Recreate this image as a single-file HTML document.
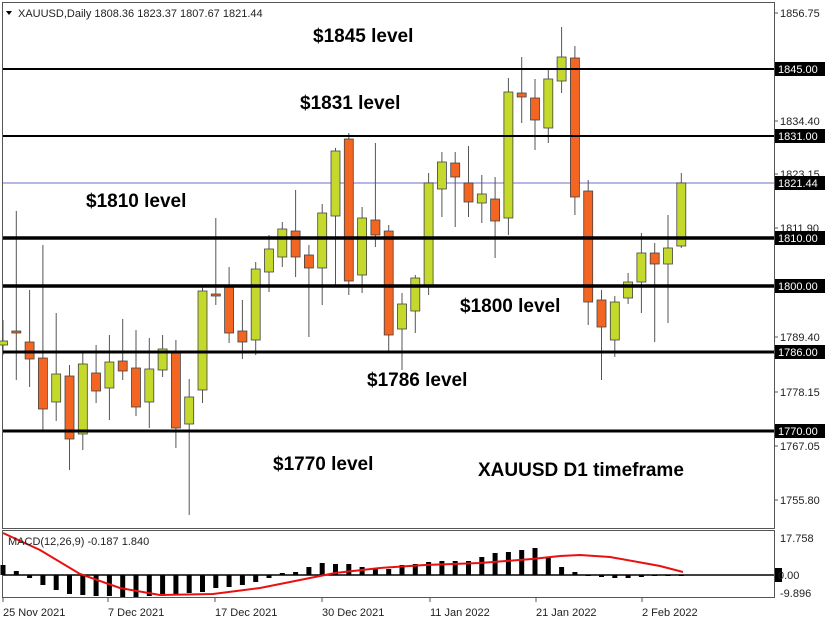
<!DOCTYPE html>
<html><head><meta charset="utf-8"><style>
html,body{margin:0;padding:0;background:#fff;width:830px;height:623px;overflow:hidden}
svg{display:block}
text{font-family:"Liberation Sans",Arial,sans-serif}
.ax{font-size:11px;fill:#222}
.lv{font-size:19px;font-weight:bold;fill:#000}
.bx{font-size:11px;fill:#fff}
</style></head><body>
<svg id="s" width="830" height="623" viewBox="0 0 830 623" xmlns="http://www.w3.org/2000/svg">
<rect x="0" y="0" width="830" height="623" fill="#fff"/>
<rect x="2.5" y="2.5" width="772" height="526" fill="none" stroke="#555" stroke-width="1"/>
<rect x="2.5" y="530.5" width="772" height="67" fill="none" stroke="#555" stroke-width="1"/>
<line x1="3" y1="183" x2="774" y2="183" stroke="#8c8cd8" stroke-width="1.2"/>
<g id="candles"></g>
<g id="macd"></g>
<line x1="3" y1="575" x2="774" y2="575" stroke="#000" stroke-width="1.5"/>
<polyline fill="none" stroke="#e81010" stroke-width="2" points="3,533 40,550 80,574 120,588 160,595 213,594 260,588 300,580 335,573 380,568 425,565 480,563 532,559 560,556 580,555 610,557 638,562 660,566 683,572"/>
<!-- horizontal levels -->
<line x1="3" y1="69" x2="774" y2="69" stroke="#000" stroke-width="2"/>
<line x1="3" y1="136" x2="774" y2="136" stroke="#000" stroke-width="2"/>
<line x1="3" y1="238" x2="774" y2="238" stroke="#000" stroke-width="3.5"/>
<line x1="3" y1="286" x2="774" y2="286" stroke="#000" stroke-width="3.5"/>
<line x1="3" y1="352" x2="774" y2="352" stroke="#000" stroke-width="3"/>
<line x1="3" y1="431" x2="774" y2="431" stroke="#000" stroke-width="3"/>
<!-- header -->
<polygon points="6,11 12,11 9,15" fill="#000"/>
<text x="18" y="17" class="ax">XAUUSD,Daily  1808.36 1823.37 1807.67 1821.44</text>
<text x="8" y="545" class="ax">MACD(12,26,9) -0.187 1.840</text>
<!-- annotations -->
<text x="313" y="42" class="lv">$1845 level</text>
<text x="300" y="109" class="lv">$1831 level</text>
<text x="86" y="207" class="lv">$1810 level</text>
<text x="460" y="312" class="lv">$1800 level</text>
<text x="367" y="386" class="lv">$1786 level</text>
<text x="273" y="470" class="lv">$1770 level</text>
<text x="478" y="476" class="lv">XAUUSD D1 timeframe</text>
<!-- right axis -->
<g class="ax">
<text x="780" y="17">1856.75</text>
<text x="780" y="125">1834.40</text>
<text x="780" y="178">1823.15</text>
<text x="780" y="232">1811.90</text>
<text x="780" y="341">1789.40</text>
<text x="780" y="396">1778.15</text>
<text x="780" y="450">1767.05</text>
<text x="780" y="504">1755.80</text>
<text x="780" y="542">17.758</text>
<text x="780" y="597">-9.896</text>
</g>
<g id="ticks" stroke="#555"></g>
<g>
<rect x="775" y="62" width="50" height="14" fill="#000"/><text x="778" y="73" class="bx">1845.00</text>
<rect x="775" y="129" width="50" height="14" fill="#000"/><text x="778" y="140" class="bx">1831.00</text>
<rect x="775" y="176" width="50" height="14" fill="#000"/><text x="778" y="187" class="bx">1821.44</text>
<rect x="775" y="231" width="50" height="14" fill="#000"/><text x="778" y="242" class="bx">1810.00</text>
<rect x="775" y="279" width="50" height="14" fill="#000"/><text x="778" y="290" class="bx">1800.00</text>
<rect x="775" y="345" width="50" height="14" fill="#000"/><text x="778" y="356" class="bx">1786.00</text>
<rect x="775" y="424" width="50" height="14" fill="#000"/><text x="778" y="435" class="bx">1770.00</text>
<rect x="775" y="568" width="7" height="14" fill="#000"/><text x="778" y="579" class="ax">0.00</text>
</g>
<g class="ax">
<text x="3" y="616">25 Nov 2021</text>
<text x="108" y="616">7 Dec 2021</text>
<text x="215" y="616">17 Dec 2021</text>
<text x="322" y="616">30 Dec 2021</text>
<text x="430" y="616">11 Jan 2022</text>
<text x="536" y="616">21 Jan 2022</text>
<text x="642" y="616">2 Feb 2022</text>
</g>
</svg>
<script>
var C=[[341,345,320,355,'g'],[331,333,211,380,'d'],[342,359,290,387,'o'],[358,409,245,430,'o'],[374,402,313,421,'g'],[376,439,365,470,'o'],[364,434,353,450,'g'],[373,391,345,403,'o'],[362,388,335,420,'g'],[361,371,319,380,'o'],[368,407,330,416,'o'],[369,402,338,428,'g'],[349,370,335,377,'g'],[353,428,340,448,'o'],[397,424,379,515,'g'],[291,390,285,403,'g'],[294,296,218,305,'o'],[287,333,267,343,'o'],[331,342,300,359,'o'],[269,340,262,355,'g'],[249,272,235,292,'g'],[229,257,222,267,'g'],[231,257,190,277,'o'],[255,268,245,337,'o'],[213,268,204,305,'g'],[151,216,148,287,'g'],[139,281,133,295,'o'],[218,275,207,293,'g'],[220,235,143,247,'o'],[231,335,225,352,'o'],[304,329,293,370,'g'],[278,311,275,333,'g'],[183,287,173,295,'g'],[162,189,152,217,'g'],[163,177,152,227,'o'],[183,202,146,217,'o'],[194,203,175,223,'g'],[199,221,177,258,'o'],[92,218,78,235,'g'],[93,97,57,123,'o'],[98,120,79,150,'o'],[79,128,68,143,'g'],[57,81,27,93,'g'],[58,197,46,215,'o'],[191,302,180,325,'o'],[300,327,290,380,'o'],[302,340,296,357,'g'],[282,298,273,304,'g'],[253,282,233,313,'g'],[253,264,243,342,'o'],[248,264,215,323,'g'],[183,246,173,248,'g']];
var H=[565,571,578,585,590,594,595,596,596,597,597,596,596,595,593,592,588,587,585,582,578,573,572,567,563,564,564,567,569,569,565,564,562,561,561,561,557,553,552,550,548,558,567,572,575,577,578,578,577,576,575,575];
var ns="http://www.w3.org/2000/svg";
function el(p,t,a){var e=document.createElementNS(ns,t);for(var k in a)e.setAttribute(k,a[k]);p.appendChild(e);return e;}
var g=document.getElementById('candles'),m=document.getElementById('macd'),tk=document.getElementById('ticks');
C.forEach(function(c,k){var x=3+13.3*k;
 el(g,'line',{x1:x,x2:x,y1:c[2],y2:c[3],stroke:'#555','stroke-width':1});
 var col=c[4]=='g'?'#c5d92d':(c[4]=='o'?'#f26522':'#f26522');
 var h=Math.max(c[1]-c[0],2);
 el(g,'rect',{x:x-4.5,y:c[0],width:9,height:h,fill:col,stroke:'#444','stroke-width':0.8});
});
H.forEach(function(h,k){var x=3+13.3*k;var y0=Math.min(h,575),y1=Math.max(h,575);
 el(m,'rect',{x:x-2.5,y:y0,width:5,height:Math.max(y1-y0,1),fill:'#000'});});
[3,108,215,322,430,536,642].forEach(function(x){el(tk,'line',{x1:x,x2:x,y1:597,y2:602});});
[13,121,174,228,337,392,446,500].forEach(function(y){el(tk,'line',{x1:774,x2:778,y1:y,y2:y});});
</script>
</body></html>
